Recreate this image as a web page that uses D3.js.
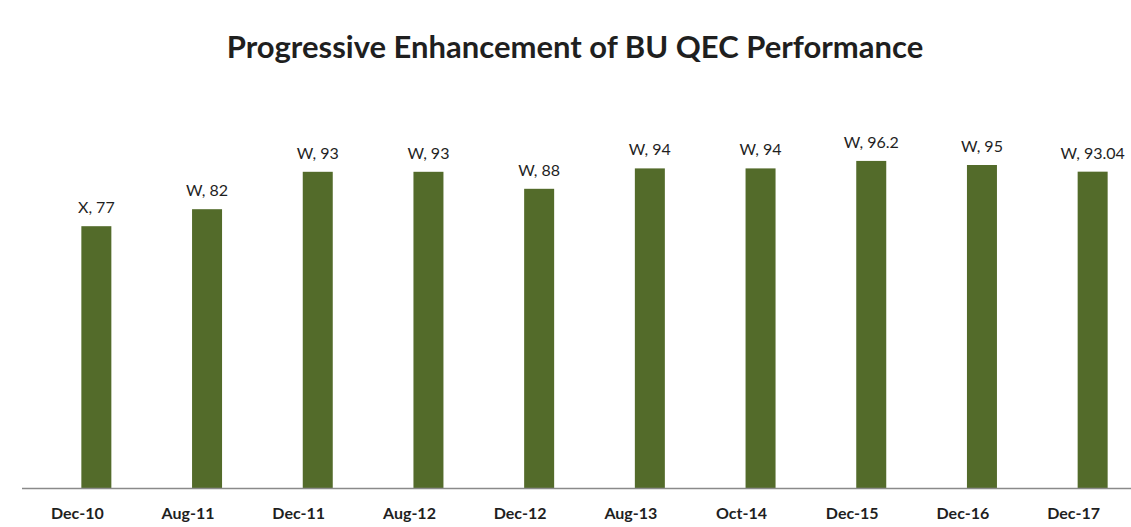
<!DOCTYPE html>
<html>
<head>
<meta charset="utf-8">
<script src="https://cdn.jsdelivr.net/npm/d3@7"></script>
<style>
  body { margin: 0; background: #fff; }
  svg text { font-family: Lato, "Open Sans", sans-serif; fill: #1f1f1f; }
</style>
</head>
<body>
<svg id="chart" width="1131" height="527"></svg>
<script>
var categories = ["Dec-10", "Aug-11", "Dec-11", "Aug-12", "Dec-12", "Aug-13", "Oct-14", "Dec-15", "Dec-16", "Dec-17"];
var grades = ["X", "W", "W", "W", "W", "W", "W", "W", "W", "W"];
var scores = [77, 82, 93, 93, 88, 94, 94, 96.2, 95, 93.04];
var yDomain = [0, 100];

var svg = d3.select("#chart");
var width = 1131, height = 527;

var x = d3.scaleBand().domain(categories).range([22, 1129]);
var y = d3.scaleLinear().domain(yDomain).range([488, 148]);

var barW = 30, barShift = 19; // bar sits right of the category centre

svg.append("rect").attr("width", width).attr("height", height).attr("fill", "#fff");

svg.append("text")
	.attr("x", 575)
	.attr("y", 58)
	.attr("text-anchor", "middle")
	.style("font-size", "31px")
	.style("font-weight", "bold")
	.text("Progressive Enhancement of BU QEC Performance");

var data = categories.map(function(c, i){
	return {cat: c, grade: grades[i], value: scores[i]};
});

svg.selectAll("rect.bar")
	.data(data)
	.enter()
	.append("rect")
		.attr("class", "bar")
		.attr("x", function(d){ return x(d.cat) + x.bandwidth() / 2 + barShift - barW / 2; })
		.attr("y", function(d){ return y(d.value); })
		.attr("width", barW)
		.attr("height", function(d){ return y(0) - y(d.value); })
		.attr("fill", "#536b2a");

svg.selectAll("text.lbl")
	.data(data)
	.enter()
	.append("text")
		.attr("class", "lbl")
		.attr("x", function(d){ return x(d.cat) + x.bandwidth() / 2 + barShift; })
		.attr("y", function(d){ return y(d.value) - 13; })
		.attr("text-anchor", "middle")
		.style("font-size", "16px")
		.text(function(d){ return d.grade + ", " + d.value; });

var axis = svg.append("g")
	.attr("transform", "translate(0," + y(0) + ")")
	.call(d3.axisBottom(x).tickSize(0).tickPadding(20));

axis.select(".domain").remove();
axis.append("line")
	.attr("x1", 22).attr("x2", 1131)
	.attr("y1", 0.5).attr("y2", 0.5)
	.attr("stroke", "#8a8a8a")
	.attr("stroke-width", 1.5);

axis.selectAll(".tick text")
	.style("font-family", "Lato, sans-serif")
	.style("font-size", "16px")
	.style("font-weight", "bold")
	.attr("fill", "#1f1f1f");
</script>
</body>
</html>
